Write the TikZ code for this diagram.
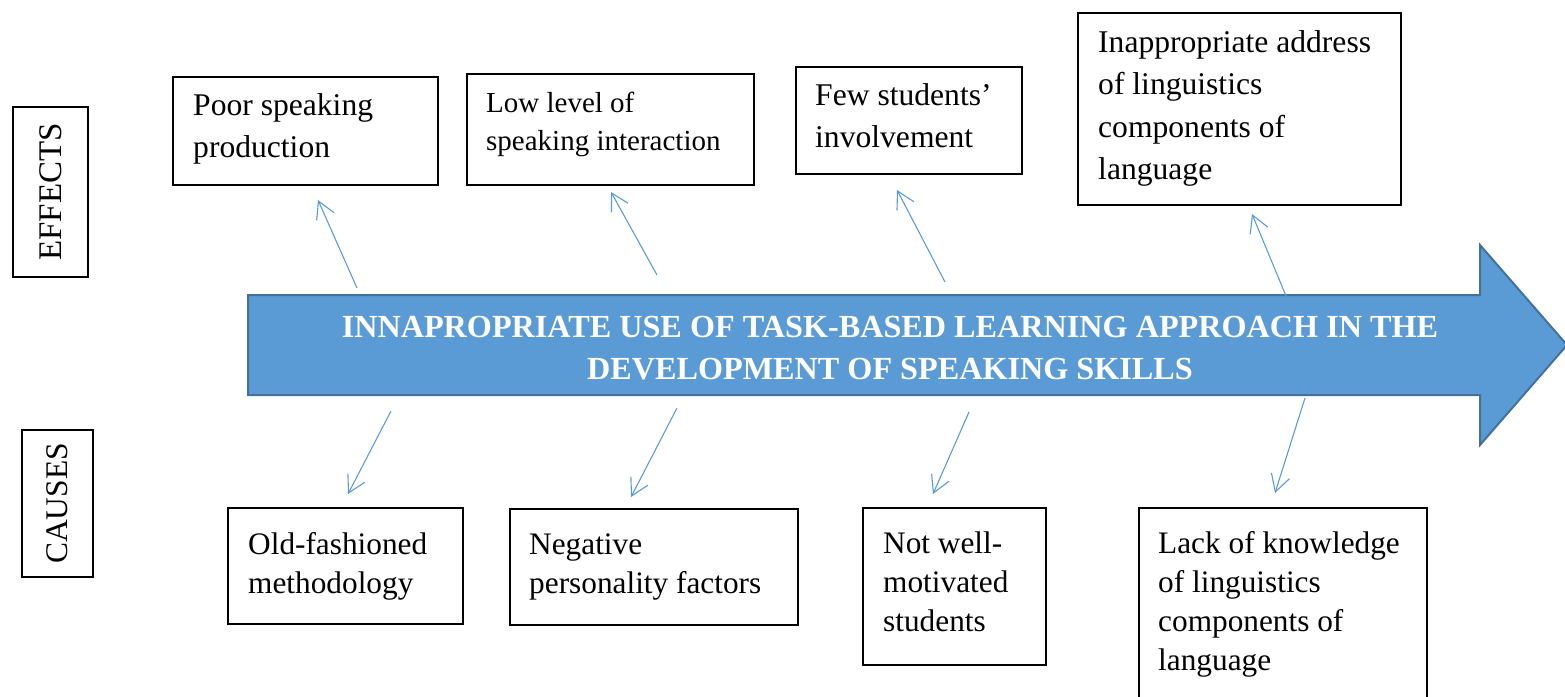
\documentclass[tikz,border=0pt]{standalone}
\usepackage{fontspec}
\setmainfont{Liberation Serif}
\usetikzlibrary{arrows.meta}
\definecolor{arrowblue}{HTML}{5B9BD5}
\definecolor{arrowedge}{HTML}{41719C}
\begin{document}
\begin{tikzpicture}[x=1pt,y=-1pt,
  box/.style={draw=black, line width=1.7pt, inner sep=0pt, anchor=north west},
  sidebox/.style={draw=black, line width=1.7pt, inner sep=0pt, rotate=90},
  % multi-line texts are placed by the baseline of their last line
  boxtext/.style={anchor=base west, align=left, inner sep=0pt,
    font=\fontsize{31.6}{42.5}\selectfont},
  smalltext/.style={boxtext, font=\fontsize{29}{38}\selectfont},
  causetext/.style={boxtext, font=\fontsize{31.3}{39}\selectfont},
  link/.style={draw=arrowblue, line width=1.1pt,
    -{Straight Barb[length=17pt,width=19pt,line width=1.1pt]}}]

\clip (0,0) rectangle (1565,696);

% central problem arrow
\draw[fill=arrowblue, draw=arrowedge, line width=2pt, line join=miter]
  (248,295) -- (1480,295) -- (1480,245) -- (1567,345) -- (1480,445)
  -- (1480,395) -- (248,395) -- cycle;
\node[anchor=base, align=center, inner sep=0pt, text=white,
  font=\bfseries\fontsize{32.2}{42}\selectfont] (problem) at (890,379)
  {INNAPROPRIATE USE OF TASK-BASED LEARNING APPROACH IN THE\\
   DEVELOPMENT OF SPEAKING SKILLS};

% side labels
\node[sidebox, minimum width=170pt, minimum height=75pt,
  font=\fontsize{33}{33}\selectfont] (effects) at (50.5,192) {EFFECTS};
\node[sidebox, minimum width=147pt, minimum height=71pt,
  font=\fontsize{31.5}{31.5}\selectfont] (causes) at (57.5,503.5) {CAUSES};

% effects
\node[box, minimum width=265pt, minimum height=108pt] (poor) at (172,76) {};
\node[boxtext] (poortxt) at (193,157.5) {Poor speaking\\production};

\node[box, minimum width=287pt, minimum height=111pt] (low) at (466,73) {};
\node[smalltext] (lowtxt) at (486,150) {Low level of\\speaking interaction};

\node[box, minimum width=226pt, minimum height=107pt] (few) at (795,66) {};
\node[boxtext] (fewtxt) at (815,147.5) {Few students’\\involvement};

\node[box, minimum width=323pt, minimum height=192pt] (addr) at (1077,12) {};
\node[boxtext] (addrtxt) at (1098,179.5) {Inappropriate address\\of linguistics\\components of\\language};

% causes
\node[box, minimum width=235pt, minimum height=116pt] (old) at (227,507) {};
\node[causetext] (oldtxt) at (248,593) {Old-fashioned\\methodology};

\node[box, minimum width=288pt, minimum height=116pt] (neg) at (509,508) {};
\node[causetext] (negtxt) at (529,593) {Negative\\personality factors};

\node[box, minimum width=183pt, minimum height=157pt] (notwell) at (862,507) {};
\node[causetext] (notwelltxt) at (883,631) {Not well-\\motivated\\students};

\node[box, minimum width=288pt, minimum height=220pt] (lack) at (1138,507) {};
\node[causetext] (lacktxt) at (1158,670) {Lack of knowledge\\of linguistics\\components of\\language};

% connector end points
\coordinate (e1a) at (357,288); \coordinate (e1b) at (318,200);
\coordinate (e2a) at (657,275); \coordinate (e2b) at (611,192);
\coordinate (e3a) at (945,282); \coordinate (e3b) at (897,190);
\coordinate (e4a) at (1286,296); \coordinate (e4b) at (1252,214);
\coordinate (c1a) at (391,411); \coordinate (c1b) at (348,494);
\coordinate (c2a) at (677,408); \coordinate (c2b) at (631,497);
\coordinate (c3a) at (969,412); \coordinate (c3b) at (933,494);
\coordinate (c4a) at (1305,398); \coordinate (c4b) at (1275,493);

\draw[link] (e1a) -- (e1b);
\draw[link] (e2a) -- (e2b);
\draw[link] (e3a) -- (e3b);
\draw[link] (e4a) -- (e4b);
\draw[link] (c1a) -- (c1b);
\draw[link] (c2a) -- (c2b);
\draw[link] (c3a) -- (c3b);
\draw[link] (c4a) -- (c4b);
\end{tikzpicture}
\end{document}
